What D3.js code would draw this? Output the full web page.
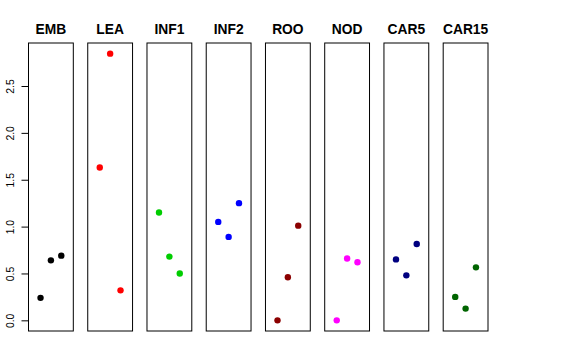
<!DOCTYPE html>
<html><head><meta charset="utf-8">
<script src="https://cdn.jsdelivr.net/npm/d3@7"></script>
<style>body{margin:0;background:#fff}svg{display:block}</style>
</head><body>
<script>
const categories = ["EMB","LEA","INF1","INF2","ROO","NOD","CAR5","CAR15"];
const colors = ["#000000","#FF0000","#00CD00","#0000FF","#8B0000","#FF00FF","#000080","#006400"];
const xPositions = [1,2,3];
const valuesEMB = [0.24, 0.64, 0.69];
const valuesLEA = [1.63, 2.845, 0.32];
const valuesINF1 = [1.15, 0.68, 0.50];
const valuesINF2 = [1.05, 0.89, 1.25];
const valuesROO = [0.00, 0.46, 1.01];
const valuesNOD = [0.00, 0.66, 0.62];
const valuesCAR5 = [0.65, 0.48, 0.815];
const valuesCAR15 = [0.25, 0.125, 0.565];
const yTicks = [0, 0.5, 1.0, 1.5, 2.0, 2.5];

const series = [valuesEMB, valuesLEA, valuesINF1, valuesINF2, valuesROO, valuesNOD, valuesCAR5, valuesCAR15];

(function(){
const W = 576, H = 360;
const svg = d3.select("body").append("svg").attr("width", W).attr("height", H);

const plotTop = 43, plotBottom = 331;
const band = d3.scaleBand().domain(categories).range([28.5, 488]).paddingInner(0.2437).paddingOuter(0);

const yMin = 0, yMax = d3.max(series.flat());
const yr = yMax - yMin;
const y = d3.scaleLinear().domain([yMin - 0.04*yr, yMax + 0.04*yr]).range([plotBottom, plotTop]);

const xr = [0, 4];
const xd = [xr[0] - 0.04*(xr[1]-xr[0]), xr[1] + 0.04*(xr[1]-xr[0])];

categories.forEach((c, i) => {
  const x0 = band(c), bw = band.bandwidth();
  const x = d3.scaleLinear().domain(xd).range([x0, x0 + bw]);
  const g = svg.append("g");
  g.append("rect").attr("x", x0).attr("y", plotTop).attr("width", bw).attr("height", plotBottom - plotTop)
    .attr("fill", "none").attr("stroke", "#000").attr("stroke-width", 1);
  g.selectAll("circle").data(series[i]).join("circle")
    .attr("cx", (d, j) => x(xPositions[j]))
    .attr("cy", d => y(d))
    .attr("r", 3.2)
    .attr("fill", colors[i]);
  g.append("text").attr("x", x0 + bw/2).attr("y", 34.3)
    .attr("text-anchor", "middle")
    .attr("font-family", "Liberation Sans, Arial, sans-serif")
    .attr("font-weight", "bold").attr("font-size", "13.8px")
    .text(c);
});

const axisG = svg.append("g").attr("transform", `translate(${band(categories[0])},0)`);
const axis = d3.axisLeft(y).tickValues(yTicks).tickFormat(d3.format(".1f")).tickSize(7).tickPadding(0);
axisG.call(axis);
axisG.select(".domain").attr("stroke","none");
axisG.append("line").attr("x1",0).attr("x2",0).attr("y1",y(yTicks[0])).attr("y2",y(yTicks[yTicks.length-1])).attr("stroke","#000");
axisG.selectAll(".tick line").attr("stroke","#000");
axisG.selectAll(".tick text")
  .attr("font-family", "Liberation Sans, Arial, sans-serif")
  .attr("font-size", "10.4px")
  .attr("fill", "#000")
  .attr("text-anchor", "middle")
  .attr("dy", null)
  .attr("x", null)
  .attr("y", 0)
  .attr("transform", "translate(-14.5,0) rotate(-90)");
})();
</script>
</body></html>
